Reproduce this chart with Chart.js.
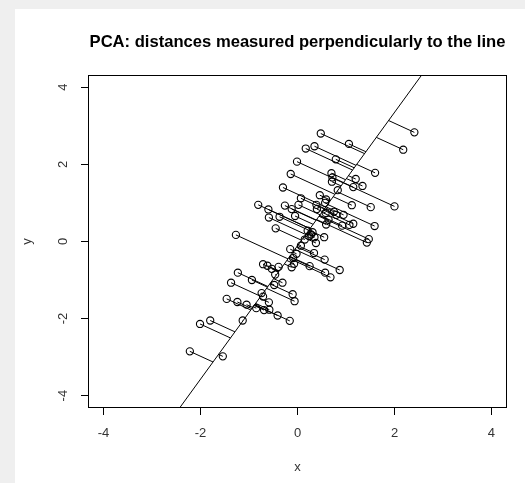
<!DOCTYPE html>
<html><head><meta charset="utf-8">
<script src="https://cdn.jsdelivr.net/npm/chart.js@4.4.1/dist/chart.umd.min.js"></script>
<style>html,body{margin:0;padding:0;background:#efefef;overflow:hidden;} canvas{display:block;}</style>
</head><body>
<canvas id="c" width="525" height="483"></canvas>
<script>
// ---- data ----
const xValues = [
  2.41, 2.18, 0.48, 1.06, 0.35, 0.17, 0.79, -0.01, 1.60, 0.70, 0.72, 0.71, -0.14, 1.20, 1.34, 1.15, 0.83, -0.30, 0.46, 0.59,
  0.57, 0.07, 2.00, 1.12, 1.51, -0.81, -0.60, -0.26, 0.02, 0.39, 0.40, -0.12, -0.59, -0.37, -0.05, -0.45, 0.58, 0.75, 0.80, 0.95,
  0.64, 0.59, 0.92, 1.07, 1.15, 1.59, 1.47, 1.43, -1.27,
  0.21, 0.31, 0.24, 0.35, 0.28, 0.38, 0.55, 0.15, 0.07, -0.15, -0.02, -0.09, 0.34, 0.56, -0.07, -0.12, 0.25, 0.87, 0.57, 0.68,
  -0.71, -0.62, -0.53, -0.39, -0.46, -1.23, -0.94, -1.37, -0.31, -0.48, -0.10, -0.06, -0.74, -0.71, -1.46, -1.24, -1.05, -0.59, -0.85, -0.69,
  -0.58, -0.41, -0.16, -1.13, -1.80, -2.01, -2.22, -1.54
];
const yValues = [
  2.83, 2.38, 2.80, 2.53, 2.47, 2.41, 2.13, 2.07, 1.78, 1.77, 1.66, 1.55, 1.75, 1.62, 1.44, 1.41, 1.33, 1.40, 1.20, 1.09,
  1.00, 1.12, 0.91, 0.94, 0.89, 0.95, 0.83, 0.93, 0.95, 0.95, 0.84, 0.84, 0.62, 0.64, 0.66, 0.34, 0.74, 0.77, 0.69, 0.69,
  0.56, 0.44, 0.41, 0.43, 0.46, 0.40, 0.06, -0.03, 0.17,
  0.28, 0.24, 0.14, 0.11, 0.18, -0.04, 0.11, 0.05, -0.11, -0.20, -0.32, -0.43, -0.30, -0.47, -0.58, -0.67, -0.64, -0.74, -0.81, -0.93,
  -0.59, -0.63, -0.71, -0.66, -0.86, -0.81, -1.00, -1.07, -1.07, -1.13, -1.37, -1.55, -1.34, -1.43, -1.49, -1.57, -1.64, -1.58, -1.73, -1.78,
  -1.77, -1.92, -2.06, -2.05, -2.05, -2.14, -2.85, -2.98
];
const lineSlope = 1.73;       // first principal axis
const lineIntercept = -0.113;
const xTicks = [-4, -2, 0, 2, 4];
const yTicks = [-4, -2, 0, 2, 4];
const xLimits = [-4.32, 4.32];
const yLimits = [-4.32, 4.32];
const titleText = 'PCA: distances measured perpendicularly to the line';

// ---- build datasets ----
function project(x, y) {
  const t = (x + lineSlope * (y - lineIntercept)) / (1 + lineSlope * lineSlope);
  return { x: t, y: lineIntercept + lineSlope * t };
}
const points = xValues.map((x, i) => ({ x: x, y: yValues[i] }));
const datasets = [];
datasets.push({
  data: points, showLine: false, pointStyle: 'circle', pointRadius: 3.6,
  pointBorderWidth: 1.1, pointBorderColor: '#000', pointBackgroundColor: 'rgba(0,0,0,0)',
  pointHoverRadius: 3.6
});
datasets.push({
  data: [{ x: xLimits[0], y: lineIntercept + lineSlope * xLimits[0] }, { x: xLimits[1], y: lineIntercept + lineSlope * xLimits[1] }],
  showLine: true, borderColor: '#000', borderWidth: 1, pointRadius: 0
});
points.forEach(p => {
  datasets.push({ data: [p, project(p.x, p.y)], showLine: true, borderColor: '#000', borderWidth: 1, pointRadius: 0 });
});

const bgPlugin = {
  id: 'bg',
  beforeDraw(chart) {
    const ctx = chart.ctx;
    ctx.save();
    ctx.fillStyle = '#efefef';
    ctx.fillRect(0, 0, chart.width, chart.height);
    ctx.fillStyle = '#ffffff';
    ctx.fillRect(15, 9, chart.width - 15, chart.height - 9);
    ctx.restore();
  },
  afterDraw(chart) {
    const a = chart.chartArea, ctx = chart.ctx;
    ctx.save();
    ctx.strokeStyle = '#000';
    ctx.lineWidth = 1;
    ctx.strokeRect(Math.round(a.left) + 0.5, Math.round(a.top) + 0.5, Math.round(a.right - a.left) - 1, Math.round(a.bottom - a.top) - 1);
    ctx.restore();
  }
};

const fontFam = '"Liberation Sans", Arial, Helvetica, sans-serif';
new Chart(document.getElementById('c'), {
  type: 'scatter',
  data: { datasets: datasets },
  options: {
    responsive: false, animation: false, devicePixelRatio: 1,
    events: [],
    layout: { padding: { left: 0, right: 18, top: 0, bottom: 0 } },
    plugins: {
      legend: { display: false }, tooltip: { enabled: false },
      title: {
        display: true, text: titleText, fullSize: false, color: '#000',
        font: { family: fontFam, size: 16.6, weight: 'bold', lineHeight: 1.2 },
        padding: { top: 32, bottom: 23 }
      }
    },
    scales: {
      x: {
        type: 'linear', min: xLimits[0], max: xLimits[1],
        afterBuildTicks: s => { s.ticks = xTicks.map(v => ({ value: v })); },
        afterFit: s => { s.height = 75; },
        border: { display: false },
        grid: { display: true, drawOnChartArea: false, drawTicks: true, tickLength: 7, color: '#000', tickColor: '#000' },
        ticks: { color: '#333', padding: 11, font: { family: fontFam, size: 13 }, maxRotation: 0, minRotation: 0 },
        title: { display: true, text: 'x', color: '#333', font: { family: fontFam, size: 13 }, padding: { top: 0, bottom: 7.5 } }
      },
      y: {
        type: 'linear', min: yLimits[0], max: yLimits[1],
        afterBuildTicks: s => { s.ticks = yTicks.map(v => ({ value: v })); },
        afterFit: s => { s.width = 88; },
        border: { display: false },
        grid: { display: true, drawOnChartArea: false, drawTicks: true, tickLength: 7, color: '#000', tickColor: '#000' },
        ticks: { color: '#333', padding: 12, crossAlign: 'center', minRotation: 90, maxRotation: 90, font: { family: fontFam, size: 13 } },
        title: { display: true, text: 'y', color: '#333', font: { family: fontFam, size: 13 }, padding: { top: 20, bottom: 0 } }
      }
    }
  },
  plugins: [bgPlugin]
});
</script>
</body></html>
